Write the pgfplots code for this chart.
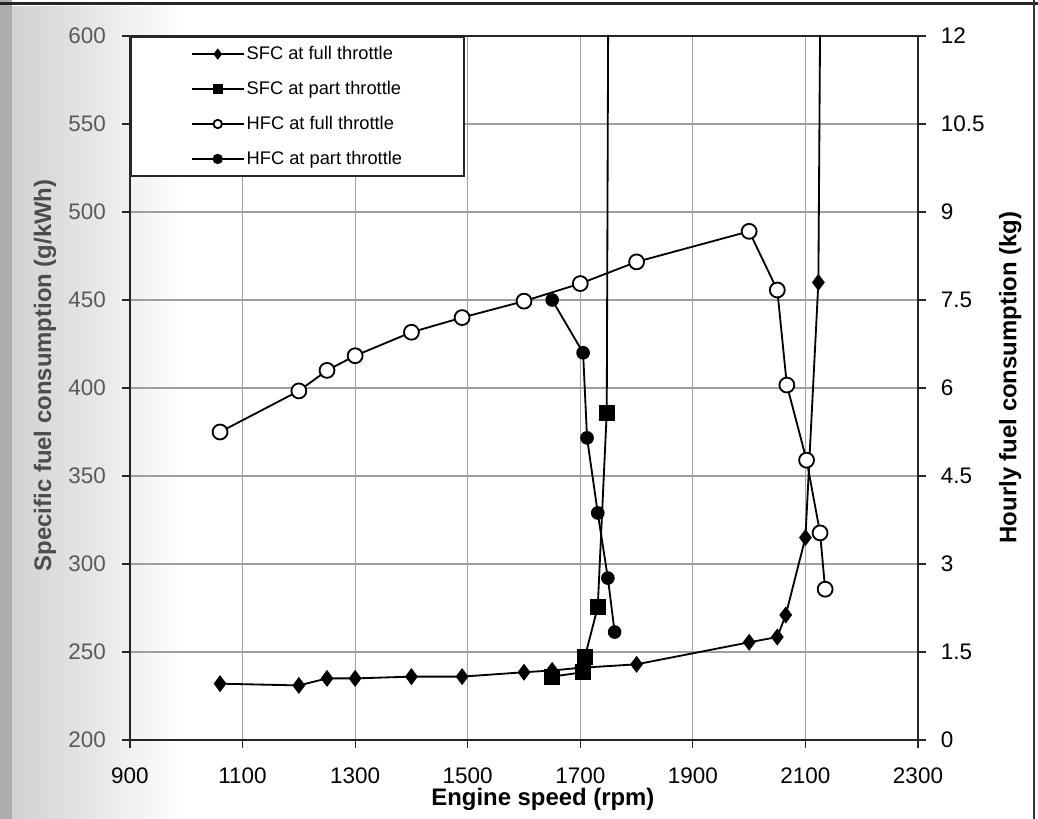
\documentclass[border=0pt]{standalone}
\usepackage{pgfplots}
\pgfplotsset{compat=1.18}
\usepackage{pgfplotstable}
\usepackage{fontspec}
\setmainfont{Liberation Sans}

% SFC (g/kWh), left axis
\pgfplotstableread{
rpm sfc
1060 232
1200 231
1250 235
1300 235
1400 236
1490 236
1600 238.5
1650 239.5
1700 241
1800 243
2000 255.5
2050 258.5
2065 271
2100 315
2123 460
2127 650
}\sfcfull
\pgfplotstableread{
rpm sfc
1650 236
1705 238.5
1708 247
1731 275.5
1747 386
1750 650
}\sfcpart
% HFC (kg), right axis
\pgfplotstableread{
rpm hfc
1060 5.25
1200 5.95
1250 6.3
1300 6.55
1400 6.95
1490 7.2
1600 7.48
1700 7.78
1800 8.15
2000 8.67
2050 7.67
2067 6.05
2102 4.77
2126 3.53
2135 2.57
}\hfcfull
\pgfplotstableread{
rpm hfc
1650 7.5
1705 6.6
1712 5.15
1731 3.87
1749 2.76
1761 1.84
}\hfcpart

\pgfplotsset{
  sfcf/.style={black, line width=1.3pt, mark=diamond*, mark size=5pt},
  sfcp/.style={black, line width=1.3pt, mark=square*, mark size=5pt},
  hfcf/.style={black, line width=1.3pt, mark=*, mark size=5.3pt, mark options={fill=white}},
  hfcp/.style={black, line width=1.3pt, mark=*, mark size=4.2pt},
  common/.style={
    at={(3.25cm,1.975cm)}, anchor=south west,
    width=19.7cm, height=17.6cm, scale only axis,
    xmin=900, xmax=2300,
    tick align=outside, major tick length=0.2cm,
    tick style={black!85, line width=0.9pt},
    axis line style={black!85, line width=1.3pt},
    /pgf/number format/assume math mode=true,
    /pgf/number format/1000 sep={},
    tick label style={font=\fontsize{16}{18}\selectfont},
    label style={font=\fontsize{17}{19}\selectfont\bfseries},
  },
}

\begin{document}
\begin{tikzpicture}
\path[use as bounding box] (0,0) rectangle (25.95cm,20.475cm);
\fill[black!32] (0,0) rectangle (0.3cm,20.475cm);
\shade[left color=black!18, right color=white] (0.3cm,0) rectangle (4.6cm,20.3cm);
\draw[black!85, line width=2pt] (0,20.38cm) -- (25.95cm,20.38cm);
\draw[black!80, line width=1.5pt] (25.85cm,0) -- (25.85cm,20.475cm);

\begin{axis}[common,
  ymin=200, ymax=600,
  xtick={900,1100,...,2300}, ytick={200,250,...,600},
  xtick pos=bottom, ytick pos=left,
  grid=major, major grid style={gray!75, line width=0.9pt},
  yticklabel style={black!65, xshift=-0.28cm},
  xticklabel style={yshift=-0.38cm},
  xlabel={Engine speed (rpm)},
  ylabel={Specific fuel consumption (g/kWh)},
  xlabel style={at={(axis description cs:0.524,-0.085)}, anchor=center},
  ylabel style={at={(axis description cs:-0.108,0.518)}, anchor=center, black!70},
]
\addplot[sfcf] table[x=rpm, y=sfc] {\sfcfull};
\addplot[sfcp] table[x=rpm, y=sfc] {\sfcpart};
\end{axis}

\begin{axis}[common,
  ymin=0, ymax=12,
  axis x line=none, axis y line*=right,
  ytick={0,1.5,3,4.5,6,7.5,9,10.5,12},
  yticklabels={0,1.5,3,4.5,6,7.5,9,10.5,12},
  yticklabel style={xshift=0.25cm},
  ylabel={Hourly fuel consumption (kg)},
  ylabel style={at={(axis description cs:1.117,0.515)}, anchor=center},
  legend style={at={(0,1)}, anchor=north west, draw=black!85, line width=1.2pt,
    fill=white, font=\fontsize{13}{15}\selectfont,
    inner xsep=1.5cm, inner ysep=0.14cm, row sep=0.29cm,
    nodes={inner xsep=0.05cm, inner ysep=0.1cm}},
  legend cell align=left,
  legend image code/.code={\draw[mark repeat=2, mark phase=2]
    plot coordinates {(0cm,0cm) (0.65cm,0cm) (1.3cm,0cm)};},
  legend image post style={mark size=3pt},
]
\addlegendimage{sfcf}
\addlegendentry{SFC at full throttle}
\addlegendimage{sfcp}
\addlegendentry{SFC at part throttle}
\addplot[hfcf] table[x=rpm, y=hfc] {\hfcfull};
\addlegendentry{HFC at full throttle}
\addplot[hfcp] table[x=rpm, y=hfc] {\hfcpart};
\addlegendentry{HFC at part throttle}
\end{axis}
\end{tikzpicture}
\end{document}
